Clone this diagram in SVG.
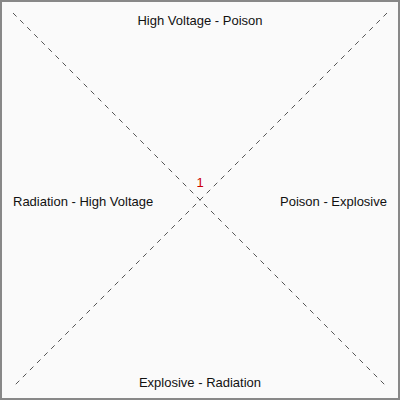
<svg xmlns="http://www.w3.org/2000/svg" width="400" height="400" viewBox="0 0 400 400">
<style>
.lbl{font-family:"Liberation Sans",Arial,sans-serif;font-size:13px;fill:#111}
.dash{stroke:#555;stroke-width:1;stroke-dasharray:5,5;fill:none}
.num{font-family:"Liberation Sans",Arial,sans-serif;font-size:13px;fill:#cc0000}
</style>
<rect x="1" y="1" width="398" height="398" fill="#fafafa" stroke="#888" stroke-width="2"/>
<g id="connectors">
<line class="dash" x1="13" y1="13" x2="387" y2="387"/>
<line class="dash" x1="387" y1="13" x2="13" y2="387"/>
</g>
<g id="center"><text class="num" x="200" y="187" text-anchor="middle">1</text></g>
<g id="top"><text class="lbl" x="200" y="25" text-anchor="middle">High Voltage - Poison</text></g>
<g id="left"><text class="lbl" x="13" y="206">Radiation - High Voltage</text></g>
<g id="right"><text class="lbl" x="387" y="206" text-anchor="end">Poison - Explosive</text></g>
<g id="bottom"><text class="lbl" x="200" y="387" text-anchor="middle">Explosive - Radiation</text></g>
</svg>
